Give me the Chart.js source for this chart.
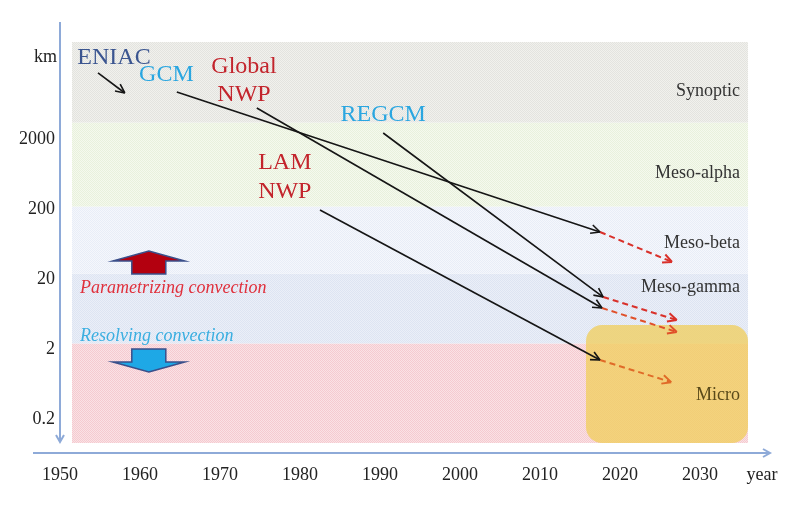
<!DOCTYPE html>
<html>
<head>
<meta charset="utf-8">
<script src="https://cdn.jsdelivr.net/npm/chart.js@4"></script>
<style>
    body { margin: 0; background: #fff; }
    canvas { display: block; }
</style>
</head>
<body>
<canvas id="chart" width="800" height="519"></canvas>
<script>
// Axis ticks
const yearTicks = [1950, 1960, 1970, 1980, 1990, 2000, 2010, 2020, 2030];
const kmTicks = [0.2, 2, 20, 200, 2000];

// Scale bands (km)
const bandNames = ['Micro', 'Meso-gamma', 'Meso-beta', 'Meso-alpha', 'Synoptic'];
const bandLow = [0.09, 2.4, 24, 220, 3500];
const bandHigh = [2.4, 24, 220, 3500, 50000];
const bandLabelKm = [0.44, 15.5, 66, 664, 9940];

// Model resolution: first run -> today
const modelNames = ['ENIAC', 'GCM', 'Global NWP', 'REGCM', 'LAM NWP'];
const modelColors = ['#3b5590', '#2aa6e0', '#c3242c', '#2aa6e0', '#c3242c'];
const modelStartYear = [1954.75, 1964.6, 1974.6, 1990.4, 1982.5];
const modelStartKm = [18000, 9620, 5670, 2486, 196];
const modelNowYear = [1958.1, 2017.5, 2017.75, 2017.9, 2017.5];
const modelNowKm = [9300, 94.9, 7.73, 11.1, 1.39];
const modelLabelYear = [1956.75, 1963.3, 1973, 1990.4, 1978.1];
const modelLabelKm = [30000, 16850, 21900, 4500, 923];
const modelLabelKm2 = [null, null, 8710, null, 355];

// Projected resolution (dashed)
const projModels = ['GCM', 'Global NWP', 'REGCM', 'LAM NWP'];
const projYear = [2026.5, 2027.1, 2027.1, 2026.4];
const projKm = [35.3, 3.5, 5.2, 0.67];
const projColors = ['#d9302a', '#e0502a', '#d9302a', '#e06a28'];

// Convection regime
const convLabels = ['Parametrizing convection', 'Resolving convection'];
const convColors = ['#e0303c', '#3aaee0'];
const convYear = [1952.5, 1952.5];
const convKm = [15.0, 3.07];
const convArrowKm = [35.3, 1.35];
const convArrowYear = 1961.1;

// Highlighted micro zone
const microZoneYear = [2015.75, 2036];
const microZoneKm = [0.09, 4.4];

const SERIF = '"Liberation Serif", "DejaVu Serif", serif';
const AXIS_BLUE = '#8eaad8';

function makePattern(ctx, c1, c2) {
    const p = document.createElement('canvas');
    p.width = 2;
    p.height = 2;
    const pc = p.getContext('2d');
    pc.fillStyle = c2;
    pc.fillRect(0, 0, 2, 2);
    pc.fillStyle = c1;
    pc.fillRect(0, 0, 1, 1);
    pc.fillRect(1, 1, 1, 1);
    return ctx.createPattern(p, 'repeat');
}

const bandPatterns = [
    ['#f5cad0', '#fae2e5'],
    ['#dde4f2', '#ebeff8'],
    ['#e8edf7', '#f5f7fc'],
    ['#e8f1dc', '#f5f9ee'],
    ['#e3e3df', '#f1f1ed']
];

const backgroundPlugin = {
    id: 'bands',
    beforeDatasetsDraw(chart) {
        const { ctx, scales: { x, y } } = chart;
        ctx.save();
        bandNames.forEach((name, i) => {
            const left = x.getPixelForValue(1951.5);
            const right = x.getPixelForValue(2036);
            const top = y.getPixelForValue(bandHigh[i]);
            const bottom = y.getPixelForValue(bandLow[i]);
            ctx.fillStyle = makePattern(ctx, bandPatterns[i][0], bandPatterns[i][1]);
            ctx.fillRect(left, top, right - left, bottom - top);
        });

        // yellow zone
        const zl = x.getPixelForValue(microZoneYear[0]);
        const zr = x.getPixelForValue(microZoneYear[1]);
        const zt = y.getPixelForValue(microZoneKm[1]);
        const zb = y.getPixelForValue(microZoneKm[0]);
        ctx.fillStyle = 'rgba(240, 206, 90, 0.75)';
        ctx.beginPath();
        ctx.roundRect(zl, zt, zr - zl, zb - zt, 16);
        ctx.fill();

        // band names
        ctx.font = '18px ' + SERIF;
        ctx.textAlign = 'right';
        ctx.textBaseline = 'middle';
        bandNames.forEach((name, i) => {
            ctx.fillStyle = name === 'Micro' ? '#5a4a1a' : '#333';
            ctx.fillText(name, x.getPixelForValue(2035), y.getPixelForValue(bandLabelKm[i]));
        });

        // convection block arrows
        const ax = x.getPixelForValue(convArrowYear);
        [1, -1].forEach((dir, i) => {
            const cy = y.getPixelForValue(convArrowKm[i]);
            const tipY = cy - dir * 11;
            const wingY = cy - dir * 1;
            const baseY = cy + dir * 12;
            ctx.beginPath();
            ctx.moveTo(ax, tipY);
            ctx.lineTo(ax + 36, wingY);
            ctx.lineTo(ax + 17, wingY);
            ctx.lineTo(ax + 17, baseY);
            ctx.lineTo(ax - 17, baseY);
            ctx.lineTo(ax - 17, wingY);
            ctx.lineTo(ax - 36, wingY);
            ctx.closePath();
            ctx.fillStyle = i === 0 ? '#b3000f' : '#1ea8e6';
            ctx.fill();
            ctx.strokeStyle = '#3a4f8a';
            ctx.lineWidth = 1.5;
            ctx.stroke();
        });

        ctx.font = 'italic 18px ' + SERIF;
        ctx.textAlign = 'left';
        convLabels.forEach((label, i) => {
            ctx.fillStyle = convColors[i];
            ctx.fillText(label, x.getPixelForValue(convYear[i]), y.getPixelForValue(convKm[i]));
        });
        ctx.restore();
    },
    afterDatasetsDraw(chart) {
        const { ctx, scales: { x, y }, chartArea } = chart;
        ctx.save();

        // arrow heads on every line
        chart.data.datasets.forEach((ds, i) => {
            const pts = chart.getDatasetMeta(i).data;
            const p0 = pts[pts.length - 2];
            const p1 = pts[pts.length - 1];
            const ang = Math.atan2(p1.y - p0.y, p1.x - p0.x);
            ctx.strokeStyle = ds.borderColor;
            ctx.lineWidth = ds.borderWidth;
            ctx.setLineDash([]);
            ctx.beginPath();
            [0.45, -0.45].forEach(d => {
                ctx.moveTo(p1.x, p1.y);
                ctx.lineTo(p1.x - 10 * Math.cos(ang + d), p1.y - 10 * Math.sin(ang + d));
            });
            ctx.stroke();
        });

        // model names
        ctx.font = '24px ' + SERIF;
        ctx.textAlign = 'center';
        ctx.textBaseline = 'middle';
        modelNames.forEach((name, i) => {
            ctx.fillStyle = modelColors[i];
            const px = x.getPixelForValue(modelLabelYear[i]);
            if (modelLabelKm2[i] !== null) {
                const words = name.split(' ');
                ctx.fillText(words[0], px, y.getPixelForValue(modelLabelKm[i]));
                ctx.fillText(words[1], px, y.getPixelForValue(modelLabelKm2[i]));
            } else {
                ctx.fillText(name, px, y.getPixelForValue(modelLabelKm[i]));
            }
        });

        // axis lines with arrows
        ctx.strokeStyle = AXIS_BLUE;
        ctx.lineWidth = 2;
        const yl = chartArea.left;
        const xb = chartArea.bottom + 10;
        ctx.beginPath();
        ctx.moveTo(yl, 22);
        ctx.lineTo(yl, chartArea.bottom - 1);
        ctx.moveTo(yl - 4, chartArea.bottom - 8);
        ctx.lineTo(yl, chartArea.bottom - 1);
        ctx.lineTo(yl + 4, chartArea.bottom - 8);
        ctx.moveTo(33, xb);
        ctx.lineTo(chartArea.right + 22, xb);
        ctx.moveTo(chartArea.right + 15, xb - 4);
        ctx.lineTo(chartArea.right + 22, xb);
        ctx.lineTo(chartArea.right + 15, xb + 4);
        ctx.stroke();

        ctx.fillStyle = '#222';
        ctx.font = '18px ' + SERIF;
        ctx.textAlign = 'right';
        ctx.fillText('km', yl - 3, y.getPixelForValue(30500));
        ctx.textAlign = 'center';
        ctx.fillText('year', chartArea.right + 14, chartArea.bottom + 32);
        ctx.restore();
    }
};

const solidSets = modelNames.map((name, i) => ({
    label: name,
    data: [
        { x: modelStartYear[i], y: modelStartKm[i] },
        { x: modelNowYear[i], y: modelNowKm[i] }
    ],
    borderColor: '#151515',
    borderWidth: 1.6,
    pointRadius: 0
}));

const dashedSets = projModels.map((name, i) => {
    const m = modelNames.indexOf(name);
    return {
        label: name + ' (projection)',
        data: [
            { x: modelNowYear[m], y: modelNowKm[m] },
            { x: projYear[i], y: projKm[i] }
        ],
        borderColor: projColors[i],
        borderWidth: 2,
        borderDash: [6, 4],
        pointRadius: 0
    };
});

const tickFont = { family: SERIF, size: 18 };

new Chart(document.getElementById('chart'), {
    type: 'line',
    data: { datasets: [...solidSets, ...dashedSets] },
    options: {
        responsive: false,
        animation: false,
        layout: { padding: { top: 42, right: 52, left: 0, bottom: 0 } },
        plugins: { legend: { display: false }, tooltip: { enabled: false } },
        scales: {
            x: {
                type: 'linear',
                min: 1950,
                max: 2036,
                grid: { display: false, drawTicks: false },
                border: { display: false },
                ticks: { font: tickFont, color: '#222', padding: 21, maxRotation: 0, autoSkip: false,
                    callback: v => String(v) },
                afterBuildTicks: s => { s.ticks = yearTicks.map(v => ({ value: v })); },
                afterFit: s => { s.height = 76; }
            },
            y: {
                type: 'logarithmic',
                min: 0.09,
                max: 50000,
                grid: { display: false, drawTicks: false },
                border: { display: false },
                ticks: { font: tickFont, color: '#222', padding: 5, autoSkip: false,
                    callback: v => String(v) },
                afterBuildTicks: s => { s.ticks = kmTicks.map(v => ({ value: v })); },
                afterFit: s => { s.width = 60; }
            }
        }
    },
    plugins: [backgroundPlugin]
});
</script>
</body>
</html>
